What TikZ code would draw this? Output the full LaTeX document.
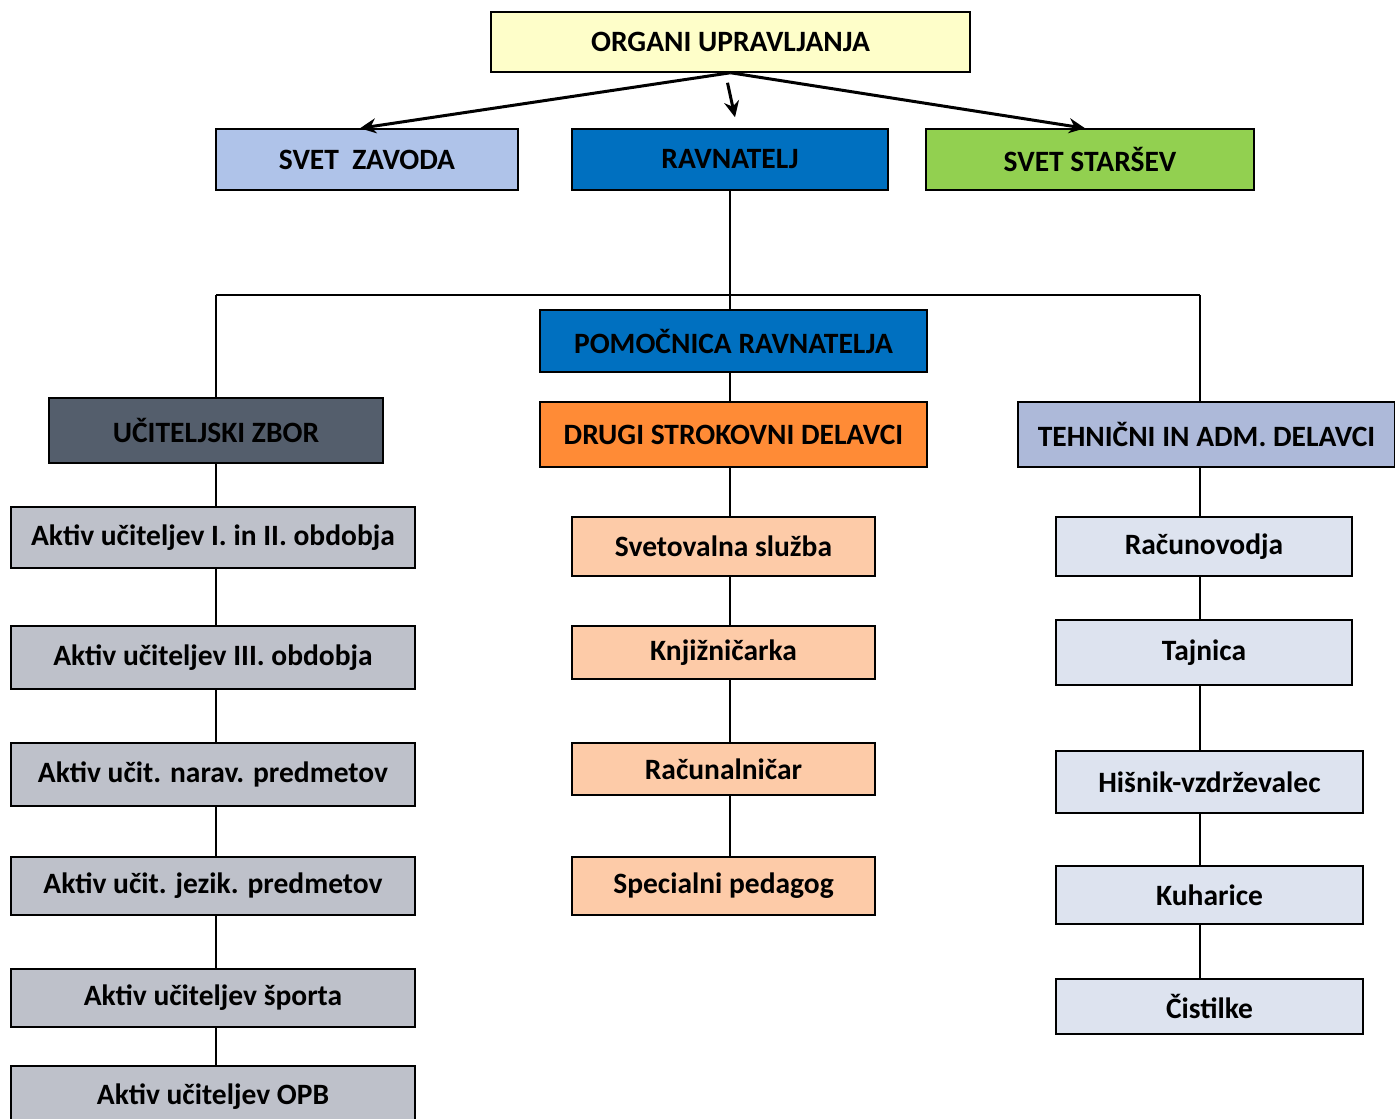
\documentclass[tikz,border=0pt]{standalone}
\usepackage{fontspec}
\setmainfont{Carlito}
\usetikzlibrary{arrows.meta}
\definecolor{orgcol}{HTML}{FEFEC9}
\definecolor{zavcol}{HTML}{AFC3E9}
\definecolor{ravcol}{HTML}{0070C0}
\definecolor{stacol}{HTML}{92D050}
\definecolor{ucicol}{HTML}{545E6C}
\definecolor{drucol}{HTML}{FF8B36}
\definecolor{tehcol}{HTML}{ADB9D9}
\definecolor{aktcol}{HTML}{BEC1CA}
\definecolor{strcol}{HTML}{FDCBA8}
\definecolor{admcol}{HTML}{DDE3EF}
\begin{document}
\begin{tikzpicture}[x=1pt, y=-1pt,
	box/.style={draw, line width=1.5pt, inner sep=0pt, font=\fontsize{29.5}{34}\selectfont\bfseries},
	conn/.style={line width=1.5pt},
	arr/.style={line width=3pt, -{Stealth[length=16pt, width=15pt]}}]

\useasboundingbox (0,0) rectangle (1395,1119);

\node[box, fill=orgcol, minimum width=479, minimum height=60](org) at(730.5,42) {ORGANI UPRAVLJANJA};
\node[box, fill=zavcol, minimum width=302, minimum height=61](zav) at(367,159.5) {SVET\ \ ZAVODA};
\node[box, fill=ravcol, minimum width=316, minimum height=61](rav) at(730,159.5) {RAVNATELJ};
\node[box, fill=stacol, minimum width=328, minimum height=61](sta) at(1090,159.5) {SVET STARŠEV};

\node[box, fill=ravcol, minimum width=387, minimum height=62](pom) at(733.5,341) {POMOČNICA RAVNATELJA};
\node[box, fill=ucicol, minimum width=334, minimum height=65](uci) at(216,430.5) {UČITELJSKI ZBOR};
\node[box, fill=drucol, minimum width=387, minimum height=65](dru) at(733.5,434.5) {DRUGI STROKOVNI DELAVCI};
\node[box, fill=tehcol, minimum width=377, minimum height=65](teh) at(1206.5,434.5) {TEHNIČNI IN ADM. DELAVCI};

\foreach [count=\i] \y\h\t in {537.5/61/Aktiv učiteljev I. in II. obdobja,657.5/63/Aktiv učiteljev III. obdobja,774.5/63/Aktiv učit. narav. predmetov,886/58/Aktiv učit. jezik. predmetov,998/58/Aktiv učiteljev športa,1097/62/Aktiv učiteljev OPB}{
	\node[box, fill=aktcol, minimum width=404, minimum height=\h](a\i) at(213,\y) {\t};
}
\foreach [count=\i] \y\h\t in {546.5/59/Svetovalna služba,652.5/53/Knjižničarka,769/52/Računalničar,886/58/Specialni pedagog}{
	\node[box, fill=strcol, minimum width=303, minimum height=\h](s\i) at(723.5,\y) {\t};
}
\foreach [count=\i] \x\y\w\h\t in {1204/546.5/296/59/Računovodja,1204/652.5/296/65/Tajnica,1209.5/782/307/62/Hišnik-vzdrževalec,1209.5/895/307/58/Kuharice,1209.5/1006.5/307/55/Čistilke}{
	\node[box, fill=admcol, minimum width=\w, minimum height=\h](t\i) at(\x,\y) {\t};
}

\draw[arr] (org.south) -- ([xshift=-7]zav.north);
\draw[arr] (org.south) -- ([xshift=-5]sta.north);
\draw[arr] ([xshift=-3,yshift=-10]org.south) -- ([xshift=5,yshift=11]rav.north);

\coordinate(lx) at(216,295);
\coordinate(rx) at(1200,295);
\draw[conn] (lx) -- (rx);
\draw[conn] (rav.south) -- (pom.north -| rav.south);
\draw[conn] (pom.south -| rav.south) -- (dru.north -| rav.south);
\draw[conn] (lx) -- (uci.north -| lx);
\draw[conn] (rx) -- (teh.north -| rx);

\foreach \u \v in {
uci/a1%
,a1/a2%
,a2/a3%
,a3/a4%
,a4/a5%
,a5/a6%
}{
	\draw[conn] (\u.south -| lx) -- (\v.north -| lx);
}
\foreach \u \v in {
dru/s1%
,s1/s2%
,s2/s3%
,s3/s4%
}{
	\draw[conn] (\u.south -| rav.south) -- (\v.north -| rav.south);
}
\foreach \u \v in {
teh/t1%
,t1/t2%
,t2/t3%
,t3/t4%
,t4/t5%
}{
	\draw[conn] (\u.south -| rx) -- (\v.north -| rx);
}

\end{tikzpicture}
\end{document}
